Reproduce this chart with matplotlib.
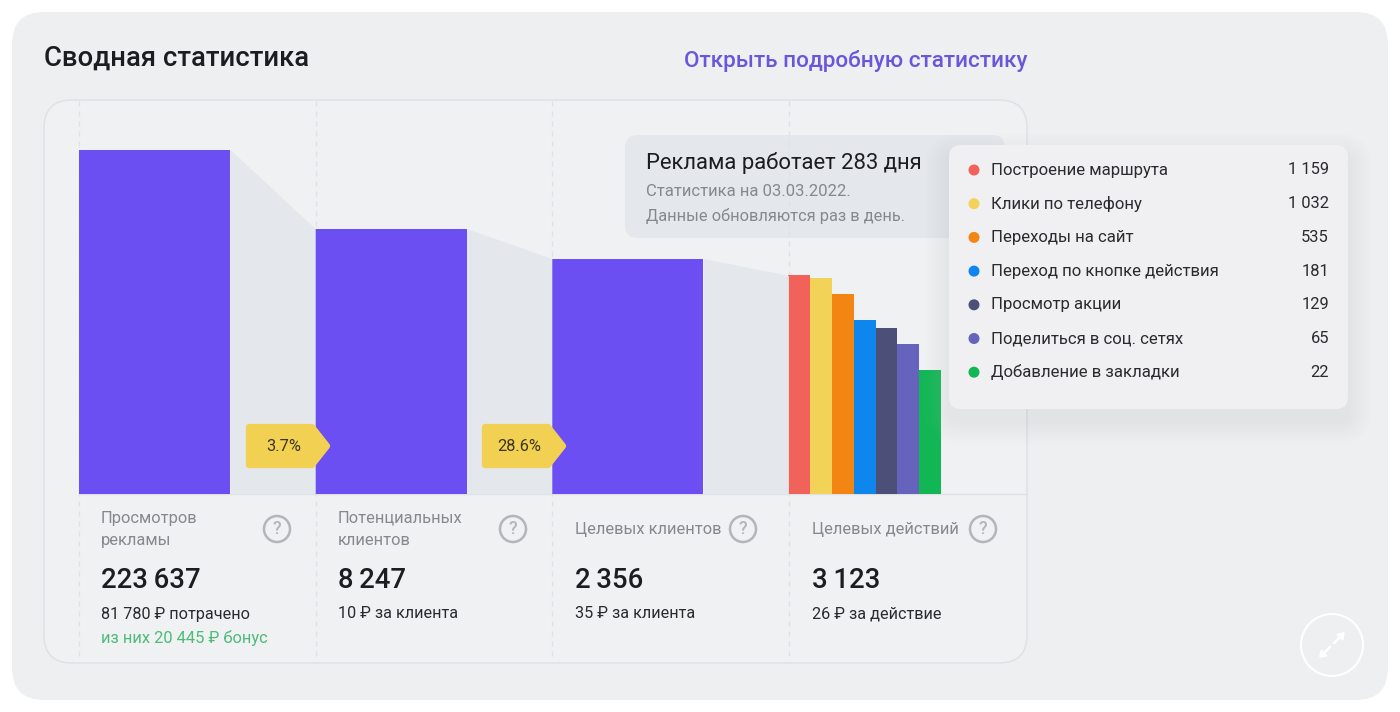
import matplotlib
matplotlib.use("Agg")
import matplotlib.pyplot as plt
from matplotlib.patches import FancyBboxPatch, Circle, Polygon

plt.rcParams['font.family'] = ['Roboto', 'Noto Sans', 'DejaVu Sans']

# ---- data ----
funnel_names = ["Просмотров\nрекламы", "Потенциальных\nклиентов", "Целевых клиентов", "Целевых действий"]
funnel_totals = ["223\u2009637", "8\u2009247", "2\u2009356", "3\u2009123"]
funnel_values = [223637, 8247, 2356]
funnel_costs = ["81 780 ₽ потрачено", "10 ₽ за клиента", "35 ₽ за клиента", "26 ₽ за действие"]
bonus_text = "из них 20 445 ₽ бонус"
conversion_labels = ["3.7%", "28.6%"]

action_names = ["Построение маршрута", "Клики по телефону", "Переходы на сайт",
                "Переход по кнопке действия", "Просмотр акции",
                "Поделиться в соц. сетях", "Добавление в закладки"]
action_values = [1159, 1032, 535, 181, 129, 65, 22]
action_labels = ["1 159", "1 032", "535", "181", "129", "65", "22"]
action_colors = ["#f0625a", "#f2d257", "#f38612", "#0f86ee", "#4c5079", "#6563bb", "#12b655"]

# ---- layout helpers (pixels) ----
W, H = 1400, 712
PANEL = "#eeeff1"
CARD = "#f0f1f3"
FUNNEL = "#e4e7eb"
PURPLE = "#6c4ff3"
GREY_TXT = "#85888e"
DARK = "#1c1d20"

def fs(px):
    return px * 72 / 100

def layer(z, rect=(0, 0, 1, 1)):
    a = fig.add_axes(rect, zorder=z)
    a.set_xlim(0, W)
    a.set_ylim(H, 0)
    a.axis("off")
    return a

def rbox(a, x0, y0, x1, y1, r, **kw):
    p = FancyBboxPatch((x0 + r, y0 + r), x1 - x0 - 2 * r, y1 - y0 - 2 * r,
                       boxstyle=f"round,pad={r},rounding_size={r}", **kw)
    a.add_patch(p)
    return p

fig = plt.figure(figsize=(W / 100, H / 100), dpi=100, facecolor="white")

# ---- background layer ----
bg = layer(0)
rbox(bg, 12, 12, 1388, 700, 32, fc=PANEL, ec="none")
rbox(bg, 44, 100, 1027, 663, 28, fc=CARD, ec="#dfe1e4", lw=1.1)
for cx in [79, 316, 552, 789]:
    bg.plot([cx, cx], [101, 660], color="#dfe1e4", lw=0.9, dashes=(4, 4))
bg.plot([79, 1027], [494, 494], color="#dfe1e4", lw=1)
rbox(bg, 625, 135, 1005, 238, 13, fc=FUNNEL, ec="none")

bg.text(44, 58.5, "Сводная статистика", fontsize=fs(27.5), fontweight="medium", color=DARK, va="center")
bg.text(684, 60.5, "Открыть подробную статистику", fontsize=fs(22.5), fontweight="medium", color="#6a55dc", va="center")
bg.text(646, 163, "Реклама работает 283 дня", fontsize=fs(22), color=DARK, va="center")
bg.text(646, 191.5, "Статистика на 03.03.2022.", fontsize=fs(16.6), color=GREY_TXT, va="center")
bg.text(646, 215.5, "Данные обновляются раз в день.", fontsize=fs(16.4), color=GREY_TXT, va="center")

# ---- bars layer: column units on x, log scale on y ----
base_y, top_y = 494, 100
left_x, right_x = 78.6, 1025
ax = fig.add_axes([left_x / W, 1 - base_y / H, (right_x - left_x) / W, (base_y - top_y) / H], zorder=1)
ax.patch.set_alpha(0)
ax.axis("off")
ax.set_yscale("log")
ax.set_xlim(0, 4)
ax.set_ylim(10 ** (-50 / 55.0), 10 ** ((394 - 50) / 55.0))
floor = ax.get_ylim()[0]
bar_w = 0.641
col_x = list(range(len(funnel_values)))
ax.bar(col_x, funnel_values, width=bar_w, align="edge", bottom=floor, color=PURPLE)
sub_w = 0.0922
ax.bar([3 + sub_w * i for i in range(len(action_values))], action_values, width=sub_w,
       align="edge", bottom=floor, color=action_colors)
next_tops = funnel_values[1:] + action_values[:1]
for i, (a_val, b_val) in enumerate(zip(funnel_values, next_tops)):
    ax.fill_between([i + bar_w, i + 1], [a_val, b_val], floor, color=FUNNEL, lw=0)

# ---- overlay ----
ov = layer(2)
ov.patch.set_alpha(0)
for i, lab in enumerate(conversion_labels):
    x0 = 249 + 236 * i
    ov.add_patch(Polygon([(x0, 427), (x0 + 63, 427), (x0 + 78, 446), (x0 + 63, 465), (x0, 465)],
                         closed=True, fc="#f2d152", ec="#f2d152", lw=4.5, joinstyle="round"))
    ov.text(x0 + 34.5, 446.5, lab, fontsize=fs(16.4), color="#3a3520", ha="center", va="center")

# column captions
text_x = [101, 338, 575, 812]
icon_x = [277, 513, 743, 983]
for i in range(4):
    ov.text(text_x[i], 529.5, funnel_names[i], fontsize=fs(16.5), color=GREY_TXT, va="center", linespacing=1.62)
    ov.text(text_x[i], 580.5, funnel_totals[i], fontsize=fs(27.5), fontweight="medium", color=DARK, va="center")
    ov.text(text_x[i], 614, funnel_costs[i], fontsize=fs(16.3), color="#2a2b2e", va="center")
    ov.add_patch(Circle((icon_x[i], 529), 13, fc="none", ec="#b3b5ba", lw=1.8))
    ov.text(icon_x[i], 528.5, "?", fontsize=fs(18), fontweight="medium", color="#b3b5ba", ha="center", va="center")
ov.text(text_x[0], 638, bonus_text, fontsize=fs(16.5), color="#4dbb7a", va="center")

# legend card with soft shadow
for k in range(24, 0, -2):
    rbox(ov, 949 - k, 145 - k + 12, 1348 + k, 409 + k + 12, 12 + k, fc="#c8cad3", ec="none", alpha=0.012)
rbox(ov, 949, 145, 1348, 409, 12, fc="#f0f0f2", ec="none")
for i, name in enumerate(action_names):
    y = 170 + 33.7 * i
    ov.add_patch(Circle((974, y), 5.5, fc=action_colors[i], ec="none"))
    ov.text(991, y, name, fontsize=fs(16.7), color="#2a2b2e", va="center")
    ov.text(1329, y, action_labels[i], fontsize=fs(16.5), color="#2a2b2e", va="center", ha="right")

# expand icon
ov.add_patch(Circle((1332, 645), 31, fc="none", ec="white", lw=1.5))
for (x0, y0), (x1, y1) in [((1334, 643), (1345, 632)), ((1330, 647), (1319, 658))]:
    ov.annotate("", xy=(x1, y1), xytext=(x0, y0),
                arrowprops=dict(arrowstyle="->,head_length=0.32,head_width=0.22", color="white", lw=2.0,
                                shrinkA=0, shrinkB=0))

fig.savefig("out.png", dpi=100, facecolor="white")
